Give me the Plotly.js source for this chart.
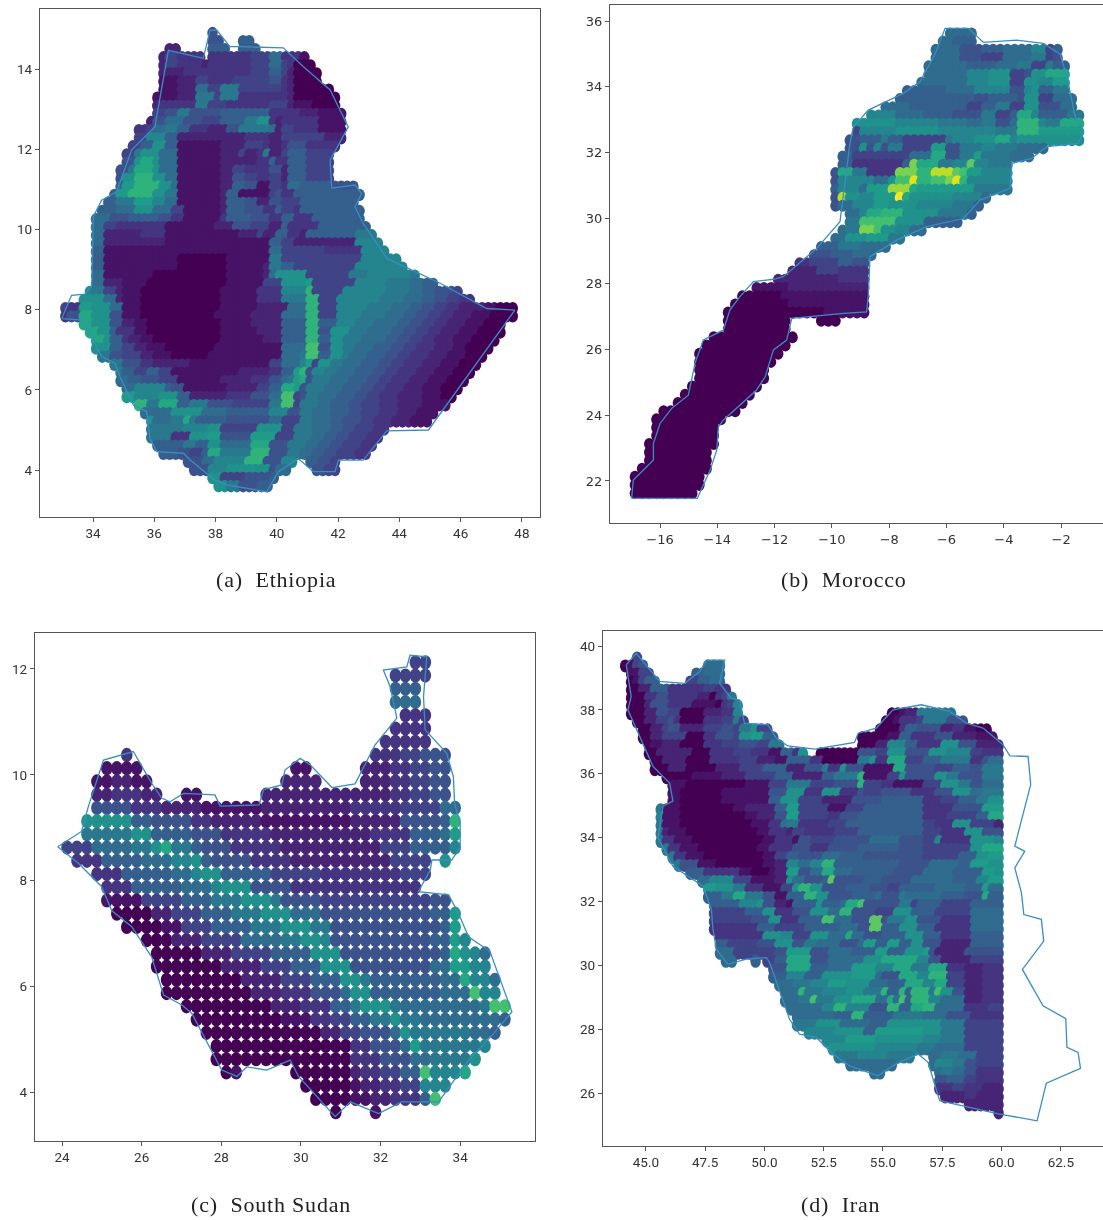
<!DOCTYPE html>
<html><head><meta charset="utf-8">
<script src="https://cdn.plot.ly/plotly-3.0.1.min.js"></script>
<style>html,body{margin:0;padding:0;background:#fff}#chart{width:1103px;height:1220px;filter:blur(0.55px)}
.annotation-text{letter-spacing:0.8px}</style>
</head><body><div id="chart"></div>
<script>
// letter -> colour value
const levelLetters = "abcdefghijklmnopqrstu";
const levelValues = [0,.05,.1,.15,.2,.25,.3,.35,.4,.45,.5,.55,.6,.65,.7,.75,.8,.85,.9,.95,1];

// Each row: "firstColumn:runs", runs = level letter + number of cells
const ethiopiaLon0 = 33.1, ethiopiaLonStep = 0.2, ethiopiaLat0 = 14.9, ethiopiaLatStep = 0.2018;
const ethiopiaRows = [
"24:f1","24:f2 29:g2","17:c2 24:g3 29:g3","16:c1e2d4 24:d7e3h2d3b1","16:c1e2d4c1d7e3h2e1d1a3",
"16:c4d4d7e3g2e1c1a4","16:b3c3e2d4e6f2d1c1a4","16:b3c3h2e2i3e7d1c1a6","15:b4c3i3e1i3d6d2c1a7",
"15:c1d6i2e3d7e3c1b3a4","15:e2f2i2f5g8d2d3c3b4","14:c1f2h3f3e3g4i2k2d1c1d6b4",
"12:d2e1h2i2g2d3c3f2i5h1c1e2d4b4","12:e2j3g2c7c4d4c2e3e4c3","11:e2g2k2g2b7c4e3d1c2d1f3d5",
"10:e2i1k3h3b7c3e1c2d1i1c2e1g3e4","10:f2k1m2k1h3b7c6d2g1d2g3e4","9:f2i1m3k1h3b7c2e2d4f2c1g3e4",
"9:f1k2n3k2h2b7c2f2e2d2e2c1g3e4","9:g1l2n4k2h1b7c2g2f2b2e2d1h2g5f4","8:g1l2n4k2i2b7c1g2b5e1f1d2g3g8",
"7:g2i3l3j2h2b7c1g3f2c2f2e3g9","6:g3h3k3h3e2b6c1g3f3d2g1e2d1g10","5:h3f3g5f2d2b6d1g4f3d2g2d3g8",
"5:h2e2d8b8c3f3e3c2g1d5g8","5:h2c6d4b12c3e1c2g2d2c1g8i3","5:h2c10b17g2e2c10j4","5:g2b27h2e7d6j4",
"5:g2b12a8b7i2e13j6","5:g2b12a8b6c1i2g2e10j8","5:h2b8a12b6c1h1k5e7i3j7i1",
"5:h2c3b4a13b6e3k4l1e7j5i4h2g2","4:j1i2e2c1b3a13b6d4j4n1e5j7i4h2g2f3e1",
"3:k1k3h2c1b3a13b6d4i4n2e3j7i4h3g2f2e2d2",
"0:e1d2l2k3h2b3a13b6c5h3n2e3j5i4h3g2f2e2d2c4b2a3","0:d1f2m2k3f2b3a12b6c5h4n2e3j4i4h3g2f2e2d2c3b3a4",
"3:m2k3f2c2b2a12b5c5g4n2g3j3i3h4g2f2e2d2c3b3a3","4:m2k2g1d3b2a12b6c4g4n2f2k3i3h4g2f2e2d2c3b3a4",
"5:m2k1g2d1c2b2a11b7c3g4n2g2k2i3h4g2f2e2d2c3b3a4","5:k3g2e2c2b3a8b11h4o2f2k2i2h3g3f2e2d3c3b2a4",
"6:i2f2e3c2b3a6b12h3i1o2g2k2i1h3g3f2e2d3c3b3a3","8:i2f3d2c6b13e2h3j1l1e1k2i2h3g3f2e2d3c3b3a3",
"9:i1g2e2g2e2b11c5d2g2l1n1f1j2i2h3g3f2e2d3c3b3a3","9:h2g2f3e3b7c5d3f2h1i1l1m1f1i3h3g3f2e2d3c3b3a3",
"10:h2j5g1f2b7c5e2g2m2l1f1i3h3g3f2e2d3c3b3a3","10:l2j4k3g2c6d4f3h2o2e1f1i2h3g3f2e2d3c4b3a2",
"12:n2i2m3g2i3f4e6i2o2e1i3h2g3f2e3d3c4b4","13:h5k5h4g7j3f2i2h3g3f2e3d3c3b3","14:k1h3i2m1i1g5f7h2e3i2h3g2f3e2d3c3b3",
"14:i6j4k2e6k4e2i3h3g2f2e3d2","14:i4d3k3l2f5l4e3i3h2g2f2e3d2","15:g5i2g2k2h5m3f3i3h2g2f2e3d2","16:g3f2e2g1m2i5n3f3i2h2g2f2e3d2",
"20:f3h2j5n3f3j2 40:g2f2e1","21:f3j3k7f1h2 41:f2e2","24:k2e4f4g1","25:k2i2f3g2"
];
const ethiopiaOutlineLon = [32.98,33.30,33.74,33.96,34.01,34.28,34.77,35.26,36.02,36.24,36.46,37.6,37.82,38.04,38.47,38.80,40.21,40.87,41.74,42.33,41.74,41.79,42.55,42.77,42.55,42.82,43.59,45.33,46.85,47.77,44.95,43.59,42.82,42.01,41.90,41.19,40.70,40.05,39.67,38.36,37.98,37.17,36.95,36.08,35.86,35.75,35.32,34.88,34.72,34.28,33.68,32.98];
const ethiopiaOutlineLat = [7.78,8.36,8.39,8.61,10.32,10.73,10.94,11.98,12.56,13.48,14.47,14.27,14.97,14.97,14.56,14.56,14.53,14.06,13.48,12.56,11.73,11.03,11.11,10.9,10.57,10.15,9.28,8.66,8.03,7.99,5.0,4.98,4.25,4.25,3.96,3.96,4.29,3.96,3.46,3.63,3.75,4.25,4.42,4.46,4.79,5.46,5.62,6.33,6.66,6.83,7.74,7.78];

const moroccoLon0 = -16.875, moroccoLonStep = 0.25, moroccoLat0 = 35.625, moroccoLatStep = 0.25;
const moroccoRows = [
"44:h4","43:h2g3","42:h4f3g3h4j2e1g1","42:h4f3e3h4i2e1f1","41:h6g4h3i2e2i1g2","41:h6j3k3e2f1k2m3",
"40:h7j3k3e2k2j2l2","38:g6h4j5f2j1k1g2i2","37:g11f2g4f1k2e2h3","35:h4g8e2g2i2e2k2f3h2",
"33:j4h4g4f4i2e2g1m2j1g4i2","31:k6j6i4h2i2f2h1n3j1i2m3","31:e1j5k6j8i3n3l6","30:f2g3i1g2e4e2i1j3k3m2j1k9",
"30:f2k1f1j1f1i2e4l2f2i3j2i3h4","29:g2e8h3m2f2i2l1i4h3","29:g2d7g1q1m3i2j2p1j2i3","28:f1m2i2d4q3n2s3p1o1l2j4",
"28:f1j5h2k1o2t1n2o2q1t1n1j6","28:g1j3h1l3r3m1l8i5","28:f1s1k2j2l3u1m1k6j4h1","28:f1h2j3l2k4j5i3g1",
"30:h2j1m2n3k5i4g1","30:i2o5k4g5","29:h1i2q2o1k2j2h2","28:h2k3l3i2","26:g3i3h4","25:f3g3h3","23:d2e4g2f2",
"22:c4e3d4","20:c9d4","17:b5c11","15:a6b12","14:a8b11","13:a14b6","13:a9 26:a3","13:a9","11:a12","10:a12","9:a12",
"9:a11","9:a10","9:a10","8:a10","7:a10","6:a10","4:a11","3:a10","3:a9","3:a9","2:a10","2:a9","2:a9","1:a10","0:a10","0:a10","0:a9"
];
const moroccoOutlineLon = [-16.99,-16.93,-16.23,-16.23,-16.0,-15.59,-15.01,-14.78,-14.49,-13.79,-13.56,-13.21,-12.74,-12.04,-11.70,-10.53,-9.72,-9.43,-9.37,-9.25,-8.73,-7.51,-6.93,-6.40,-6.05,-5.24,-4.71,-3.55,-2.62,-2.04,-1.80,-1.51,-1.22,-1.40,-2.50,-3.03,-3.72,-3.78,-4.83,-5.41,-6.69,-7.74,-8.67,-8.73,-8.79,-9.6,-11.4,-11.58,-12.04,-12.33,-12.63,-13.79,-13.96,-14.02,-14.25,-14.70,-16.99];
const moroccoOutlineLat = [21.47,22.03,22.64,23.14,23.75,24.21,24.61,25.58,26.29,26.59,27.20,27.61,28.07,28.14,28.22,29.08,29.89,31.87,32.28,32.78,33.29,33.80,34.15,35.0,35.78,35.78,35.35,35.42,35.32,35.0,34.31,33.09,32.68,32.28,32.18,31.82,31.67,30.91,30.55,29.99,29.74,29.33,28.83,27.66,27.15,27.10,26.95,26.29,25.99,25.17,24.77,23.85,23.65,22.94,22.33,21.47,21.47];

const sudanLon0 = 24.125, sudanLonStep = 0.25, sudanLat0 = 12.125, sudanLatStep = 0.25;
const sudanRows = [
"35:e2","33:e4","33:g3","33:h3","34:d3","33:d4","32:d5","6:d1 31:d3e2f3","4:b4 23:b2 30:c3d2e2f2",
"3:b2c2b2 22:c4 30:c3d2e2f2","3:c2d3c2 12:b2 20:c10c3d2e2f2","3:f4d3c4b6c9d5e4h2","2:k5g2f4d2c5b9c5f4g1n1",
"2:i5k2g4f3d5c10d4g3h1l1","0:e3h4i2k1m1i2g1f3d5c10e3g4j1","1:d3g4h3j2k1g1f4d4c10e4 38:k1","3:d3g5h2j1k2g5e5d8e3",
"4:d3g5h3j1k3f4d13","4:b4e4g3i3k3i1f4e11f2","5:a4c2e3g3i3k3h3f11g2l1","6:a4b2e3g4i3k3i2f11g1l1",
"8:a3c3e4h4i2k2j1f10g2l1j1","9:a5c3e4g4k3f10g1m1k1j1h1","9:a7c4e3g3k3f8h2l2j2","10:a8c4e3g3k2i1g7h2m1j2h1",
"10:a9c3d3f3h1k2g7h3o1j2","12:a9c3d3g2i1k3i1h8i1o2","13:a9b3d2e2g2i2k1i2h8g1","14:a12c2e2f3h1k1i6h2g1",
"15:a14d2f3h1l1i6j1","15:a14d3f3h2i4k1","16:a1b1 23:a6c1d2e2g2o1j3m1","24:a5b1c2d2e2j3","25:a4b2c2d2d1g1o1","27:a1 31:b1"
];
const sudanOutlineLon = [23.89,24.49,24.66,25.04,25.79,26.25,26.50,26.71,27.05,27.84,27.97,28.95,29.06,29.52,29.60,29.98,30.23,30.78,31.36,31.86,32.41,32.24,32.07,32.66,32.74,33.16,33.08,33.12,33.66,33.83,33.86,34.0,34.0,33.79,33.29,33.25,32.95,33.71,33.96,34.21,34.75,35.30,34.84,34.21,33.46,32.53,31.95,31.24,30.86,29.94,29.73,29.14,28.64,28.39,28.01,27.26,27.01,26.55,26.25,25.75,25.25,24.99,24.41,23.89];
const sudanOutlineLat = [8.64,8.93,9.40,10.28,10.44,9.84,9.56,9.49,9.65,9.62,9.41,9.43,9.72,9.81,10.09,10.31,10.19,9.76,9.83,10.56,11.07,11.67,11.98,12.04,12.26,12.23,11.48,10.85,10.41,9.96,9.46,9.08,8.64,8.39,8.39,8.2,7.79,7.73,7.38,6.94,6.66,5.52,5.11,4.61,3.82,3.82,3.6,3.82,3.54,4.3,4.61,4.42,4.48,4.3,4.42,5.49,5.65,5.84,6.56,7.13,7.43,7.89,8.33,8.64];

const iranLon0 = 44.125, iranLonStep = 0.25, iranLat0 = 39.625, iranLatStep = 0.25;
const iranRows = [
"2:e1","0:a1b1e1f1 14:h3","1:b2e2 12:g2h3","1:a1b1e1g2 11:e2g2h2","1:a2c2g3d6e2d2","1:a3d2f2d5c2a1d1e1i1",
"1:a3c1f3d4b4a1d1e1j1","1:a3c2f2e2a4c3d2j1 45:a2b1c2i6","2:a2c2e2f1d1a4d3e2i1e1 44:a2b1d3e1i4f3",
"3:a2c2e1f2c4e3f2e1i2k1e2 43:a4d1g2f4c2d2b2a2","3:a2c2e4a3d2f3e1k2l2g2 40:a5b2g2d4f3c4b3",
"4:a1b2c3a4d3e3f3e2i2 40:a3c2j3g2d4k3f3c4","4:a2c6a3d4e3d3b2g2d1k1 33:a7f3e2k3f4k3j4e2d3",
"5:a2c4a4d5e3c3b2g4d2a6i2k1d2m3e3g3i5d2f1h2","5:a3c3a5c4e4g4c3f3i1d2k1f3b5m2f5e3g3f2i3",
"7:a5b5c4e5g3c5g2i4n1b4e2k1f5k2i2f4i3","8:b3a10b4e3i4e4f4n1e3d2b5e3k3i2f2h3","8:b2a7b8f3k3d3k3d3f1e3f5d4f3k3h2i3",
"8:b2a7b8g2k3e4c5f5g7d3e3g3i2k2","6:i1b3a9b2c5g2l2e5b3e3g10d5f5l3","6:j1b3a11b2c3f2l2e5d2f3g11d4e5g2m2",
"6:i1b3a12b3d2h1i2d5e3g13e2d3k3e4c1","6:i1c1b3a12b2d3c1e2d5e4g11e3d4k3f3","6:i1d2b3a12b2d3b1f2e4f6h5f4e2j1d5k4j1",
"7:i1d2b3a10b2d4f3d3f5g7f4e8k2m3","8:i1d2b3a10b2e2g2f4h3g4f10e6g3k2l2","9:i1f3b3a8b2c2j2h2j2n2g11f5h5g2l3k2",
"11:g3d6b2a3b1c2l2f2h2m2h3g7f5h5g5l2k1","13:h2j4e3b4c2k1h2f3g1p1f5g3f5h7g4j2l2","14:l2k3i2d3b3e2k1n2k2f4g4f3e2g6h5g3l1h2",
"14:g3i2m2i3f2b2g3n2k2f4g4h1f3i1h6g4f3m1g2","15:g5j3k1f2c2b1g4k1g3h1m2o1f6i2e1g4e5g5","15:e6g3k2d3f3k3h2n2f4e3k3g4e6h5",
"15:e7f3k2d3g4o2h3f3p2f1i3k2f4d5h5","15:d8g3e5g6h3f2p2g3k3g3d6h5","16:d8k3j2e3k3h3m1h2f3g4k3g3d5g5",
"16:g2e5f3k3f2i2h4f3h1l2g2l2g2k2f3c5g5","16:h3e7f2l4f3h4g4l2g3k3l1f1c5f6","17:h2 22:g1 24:e2g2m4f3h6k3m6j2f2c5e5",
"25:f3m4g3h4l4j3m3i3m3d3c3d3","25:g3j3g3k5l4h1f3m3j2n3e3c3d3","26:h3i3j3l3k4h3g3m3j2m2e3c3d3",
"27:h3n1i3j4k3i3n1g2n1g1n3i1o1k2f2c3d3","27:h3i2o1i3k3m4h2m1h1o1g1n3j2h4c3d3","28:h6j2n2j4f3n2g2m2n2h5d4e2",
"29:h7g3n2g5i5h4f4d5","29:i4k4h5g3k9i4e6","31:j5k5g2l8k3i4e6","34:j4l5k8j3i4e6","35:k8j7i3h5e6","36:i4j5i4 52:h2i3h3e4",
"38:h8 52:h1j3i2f2e4","42:h2 53:h1i2h2f2d4","53:f2g3e2d4","53:d3e2d3c3","54:c4d2c4","58:c6","63:c1"
];
const iranOutlineLon = [44.17,44.59,44.94,45.58,46.63,47.27,47.55,48.32,48.11,48.6,48.95,49.16,50.15,50.5,50.99,52.12,53.8,53.95,54.72,55.42,56.62,57.81,58.52,59.22,60.06,60.35,61.12,61.23,60.56,60.98,60.56,60.84,60.94,61.68,61.78,60.88,61.75,62.71,62.76,63.23,63.33,61.89,61.5,59.92,57.39,57.04,56.9,56.48,55.56,54.79,53.59,52.89,52.19,51.48,51.06,50.22,50.08,49.23,48.46,47.97,47.83,47.76,47.41,46.14,45.51,45.72,46.14,46.0,45.3,44.24,44.38,44.17];
const iranOutlineLat = [39.41,39.77,39.46,38.89,38.83,39.2,39.56,39.56,38.83,38.36,38.31,37.58,37.53,37.11,36.87,36.77,36.98,37.27,37.43,38.0,38.16,37.95,37.58,37.43,36.91,36.56,36.54,35.66,33.73,33.57,33.05,32.27,31.59,31.44,30.76,29.87,28.73,28.33,27.43,27.27,26.77,26.31,25.13,25.34,25.76,26.65,26.96,27.22,26.91,26.54,26.85,27.22,27.74,27.84,28.31,30.08,30.24,30.19,30.03,30.5,31.12,31.75,32.48,33.1,33.99,34.98,35.14,35.71,36.23,38.0,38.42,39.41];

const captions = ["(a)  Ethiopia","(b)  Morocco","(c)  South Sudan","(d)  Iran"];
const xTicks = [[34,36,38,40,42,44,46,48],[-16,-14,-12,-10,-8,-6,-4,-2],[24,26,28,30,32,34],[45,47.5,50,52.5,55,57.5,60,62.5]];
const yTicks = [[4,6,8,10,12,14],[22,24,26,28,30,32,34,36],[4,6,8,10,12],[26,28,30,32,34,36,38,40]];
const xRanges = [[32.27,48.59],[-17.745,-0.54],[23.32,35.88],[43.19,64.28]];
const yRanges = [[2.83,15.5],[20.72,36.49],[3.08,12.68],[24.34,40.47]];
const boxes = [[40,540,9,517],[610,1103,5,523],[35,535,633,1141],[603,1103,631,1146]];
const captionCenters = [[276,579],[844,579],[271,1204],[840,1204]];
// the reference image is stretched, so its dots are taller than they are wide
const markerHeights = [12.5,12,14.2,13];
const markerWidths = [10.5,10.5,11.6,10.5];

function decodeRows(rows, lon0, lonStep, lat0, latStep) {
  const xs = [], ys = [], zs = [];
  rows.forEach((row, r) => {
    row.split(" ").forEach(seg => {
      const parts = seg.split(":");
      let col = +parts[0];
      for (const m of parts[1].matchAll(/([a-u])(\d+)/g)) {
        for (let i = 0; i < +m[2]; i++) {
          xs.push(lon0 + col * lonStep);
          ys.push(lat0 - r * latStep);
          zs.push(levelValues[levelLetters.indexOf(m[1])]);
          col++;
        }
      }
    });
  });
  return {xs, ys, zs};
}

const panels = [
  [decodeRows(ethiopiaRows, ethiopiaLon0, ethiopiaLonStep, ethiopiaLat0, ethiopiaLatStep), ethiopiaOutlineLon, ethiopiaOutlineLat],
  [decodeRows(moroccoRows, moroccoLon0, moroccoLonStep, moroccoLat0, moroccoLatStep), moroccoOutlineLon, moroccoOutlineLat],
  [decodeRows(sudanRows, sudanLon0, sudanLonStep, sudanLat0, sudanLatStep), sudanOutlineLon, sudanOutlineLat],
  [decodeRows(iranRows, iranLon0, iranLonStep, iranLat0, iranLatStep), iranOutlineLon, iranOutlineLat]
];

const W = 1103, H = 1220, traces = [];
const layout = {width:W, height:H, margin:{l:0,r:0,t:0,b:0}, showlegend:false, paper_bgcolor:"#fff", plot_bgcolor:"#fff", annotations:[]};
panels.forEach((p, i) => {
  const suffix = i ? String(i + 1) : "";
  traces.push({type:"scatter", mode:"markers", x:p[0].xs, y:p[0].ys, xaxis:"x"+suffix, yaxis:"y"+suffix,
    marker:{size:markerHeights[i], color:p[0].zs, colorscale:"Viridis", cmin:0, cmax:1, line:{width:0}}, hoverinfo:"skip"});
  traces.push({type:"scatter", mode:"lines", x:p[1], y:p[2], xaxis:"x"+suffix, yaxis:"y"+suffix,
    line:{color:"#3a8dc2", width:1.3}, hoverinfo:"skip"});
  const b = boxes[i];
  const tickFont = i === 1 ? {family:"DejaVu Sans", size:13, color:"#333"} : {family:"Roboto", size:13.5, color:"#333"};
  const common = {showgrid:false, zeroline:false, showline:true, mirror:true, linecolor:"#555", linewidth:1.2,
    ticks:"outside", ticklen:4, tickcolor:"#555", tickwidth:1, tickfont:tickFont, tickmode:"array"};
  layout["xaxis"+suffix] = Object.assign({}, common, {domain:[b[0]/W, b[1]/W], range:xRanges[i], tickvals:xTicks[i],
    ticktext: i === 3 ? xTicks[i].map(v => v.toFixed(1)) : xTicks[i].map(v => String(v).replace("-", "\u2212")),
    anchor:"y"+suffix});
  layout["yaxis"+suffix] = Object.assign({}, common, {domain:[1-b[3]/H, 1-b[2]/H], range:yRanges[i], tickvals:yTicks[i],
    ticktext:yTicks[i].map(String), anchor:"x"+suffix});
  layout.annotations.push({xref:"paper", yref:"paper", x:captionCenters[i][0]/W, y:1-captionCenters[i][1]/H,
    text:captions[i], showarrow:false, xanchor:"center", yanchor:"middle",
    font:{family:"'Liberation Serif',serif", size:22, color:"#222"}});
});
Plotly.newPlot("chart", traces, layout, {displayModeBar:false, staticPlot:true}).then(gd => {
  // narrow each dot to match the stretched reference
  const markerTraces = [...gd.querySelectorAll(".scatterlayer .trace")].filter(t => t.querySelector(".points path"));
  markerTraces.forEach((t, i) => {
    const sx = markerWidths[i] / markerHeights[i];
    t.querySelectorAll(".points path").forEach(path => {
      path.setAttribute("transform", path.getAttribute("transform") + " scale(" + sx + ",1)");
    });
  });
});
</script></body></html>
